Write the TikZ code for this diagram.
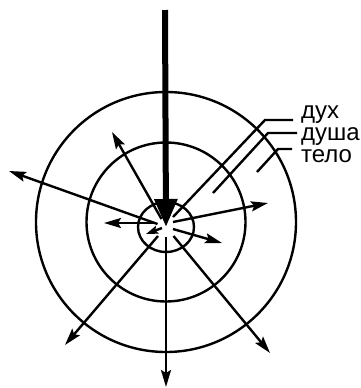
\documentclass[tikz,border=0pt]{standalone}
\usepackage{fontspec}
\setmainfont{Liberation Sans}
\usetikzlibrary{arrows.meta}
\begin{document}
\begin{tikzpicture}[x=1bp,y=-1bp,
  ring/.style={line width=2.4bp},
  ray/.style={line width=2.4bp,-{Stealth[length=17bp,width=10bp,inset=3bp]}},
  leader/.style={line width=2.4bp},
  lbl/.style={anchor=base west,inner sep=0pt,font=\fontsize{24bp}{26bp}\selectfont}]
\useasboundingbox (0,0) rectangle (361,388);
% rings
\coordinate (O) at (166,222);
\coordinate (C) at (166,227);
\draw[ring] (O) circle[radius=130bp];
\draw[ring] (O) circle[radius=79.5bp];
\draw[ring] (C) ellipse[x radius=28bp,y radius=25bp];
% big incoming arrow
\coordinate (top) at (165,10);
\draw[line width=6bp,-{Triangle[length=28bp,width=22bp]}] (top) -- (C);
% radiating arrows
\coordinate (s1) at (157.5,224); \coordinate (t1) at (9,171);
\coordinate (s2) at (161.5,219); \coordinate (t2) at (112,132);
\coordinate (s3) at (156,223);   \coordinate (t3) at (104,223);
\coordinate (s4) at (162,228);   \coordinate (t4) at (146,234);
\coordinate (s5) at (173,222);   \coordinate (t5) at (268,203);
\coordinate (s6) at (173,229);   \coordinate (t6) at (222,243);
\coordinate (s7) at (158,236);   \coordinate (t7) at (65,345);
\coordinate (s8) at (166,237);   \coordinate (t8) at (166,387);
\coordinate (s9) at (173.5,236); \coordinate (t9) at (270,353);
\foreach \i in {1,2,3,5,6,7,8,9} {\draw[ray] (s\i) -- (t\i);}
\draw[line width=2.4bp,-{Stealth[length=12bp,width=8bp,inset=2bp]}] (s4) -- (t4);
% leaders and labels
\node[lbl] (l1) at (301,118) {дух};
\node[lbl] (l2) at (301,140) {душа};
\node[lbl] (l3) at (301,162) {тело};
\coordinate (a1) at (173,217); \coordinate (b1) at (265,120); \coordinate (c1) at (293,120);
\coordinate (a2) at (213,193); \coordinate (b2) at (268,133); \coordinate (c2) at (297,133);
\coordinate (a3) at (257,172); \coordinate (b3) at (278,149); \coordinate (c3) at (292,149);
\draw[leader] (a1) -- (b1) -- (c1);
\draw[leader] (a2) -- (b2) -- (c2);
\draw[leader] (a3) -- (b3) -- (c3);
\end{tikzpicture}
\end{document}
